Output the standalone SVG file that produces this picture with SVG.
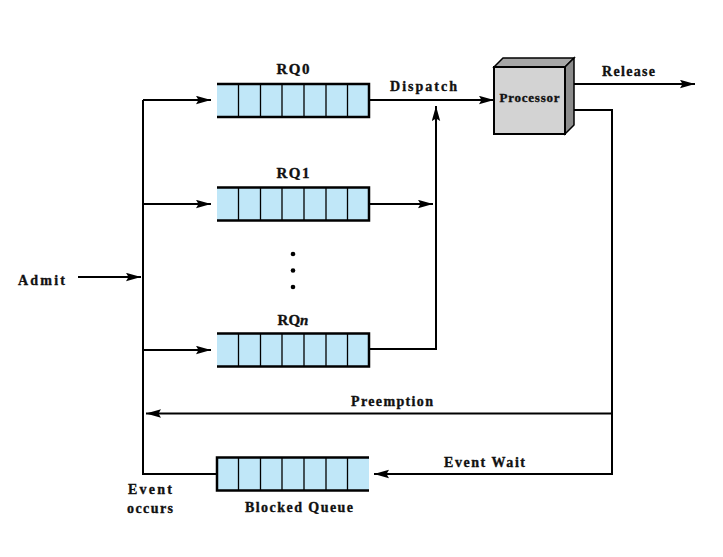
<svg xmlns="http://www.w3.org/2000/svg" width="723" height="557" viewBox="0 0 723 557">
<defs>
<style>
.t{font-family:"Liberation Serif","DejaVu Serif",serif;font-weight:bold;font-size:14px;fill:#111;stroke:#111;stroke-width:0.35;}
.q{fill:#c0e7f8;stroke:none;}
.qb{stroke:#000;stroke-width:2.5;fill:none;}
.qd{stroke:#000;stroke-width:1.3;fill:none;}
.c{stroke:#000;stroke-width:2;fill:none;}
</style>
<marker id="ah" markerUnits="userSpaceOnUse" markerWidth="18" markerHeight="12" refX="15" refY="4.5" orient="auto">
<path d="M0,0.3 L15,4.5 L0,8.7 L2.5,4.5 Z" fill="#000"/>
</marker>
</defs>
<rect width="723" height="557" fill="#fff"/>

<g id="connectors">
<path class="c" d="M143,100 V474 H217"/>
<path class="c" d="M143,100 H211" marker-end="url(#ah)"/>
<path class="c" d="M143,204 H211" marker-end="url(#ah)"/>
<path class="c" d="M143,350 H211" marker-end="url(#ah)"/>
<path class="c" d="M78,277 H141" marker-end="url(#ah)"/>
<path class="c" d="M369,100 H494" marker-end="url(#ah)"/>
<path class="c" d="M369,204 H433" marker-end="url(#ah)"/>
<path class="c" d="M369,349 H436 V106" marker-end="url(#ah)"/>
<path class="c" d="M571,84 H695" marker-end="url(#ah)"/>
<path class="c" d="M571,110 H612 V474 H374" marker-end="url(#ah)"/>
<path class="c" d="M612,413.5 H146" marker-end="url(#ah)"/>
</g>

<g id="rq0">
<rect class="q" x="217" y="84" width="152" height="33"/>
<path class="qb" d="M217,84 H369 V117 H217"/>
<path class="qd" d="M238.5,84 V117 M260.5,84 V117 M282,84 V117 M304,84 V117 M326,84 V117 M347.5,84 V117"/>
<text class="t" x="293" y="74" text-anchor="middle" style="font-size:15px" textLength="33" lengthAdjust="spacing">RQ0</text>
</g>

<g id="rq1">
<rect class="q" x="217" y="187.5" width="152" height="33"/>
<path class="qb" d="M217,187.5 H369 V220.5 H217"/>
<path class="qd" d="M238.5,187.5 V220.5 M260.5,187.5 V220.5 M282,187.5 V220.5 M304,187.5 V220.5 M326,187.5 V220.5 M347.5,187.5 V220.5"/>
<text class="t" x="293" y="178" text-anchor="middle" style="font-size:15px" textLength="33" lengthAdjust="spacing">RQ1</text>
</g>

<g id="dots">
<circle cx="293" cy="254" r="2.3" fill="#000"/>
<circle cx="293" cy="270.5" r="2.3" fill="#000"/>
<circle cx="293" cy="287" r="2.3" fill="#000"/>
</g>

<g id="rqn">
<rect class="q" x="217" y="333.5" width="152" height="33"/>
<path class="qb" d="M217,333.5 H369 V366.5 H217"/>
<path class="qd" d="M238.5,333.5 V366.5 M260.5,333.5 V366.5 M282,333.5 V366.5 M304,333.5 V366.5 M326,333.5 V366.5 M347.5,333.5 V366.5"/>
<text class="t" x="293" y="325" text-anchor="middle" style="font-size:15px">RQ<tspan font-style="italic">n</tspan></text>
</g>

<g id="blocked">
<rect class="q" x="217" y="457.5" width="152" height="33"/>
<path class="qb" d="M369,457.5 H217 V490.5 H369"/>
<path class="qd" d="M238.5,457.5 V490.5 M260.5,457.5 V490.5 M282,457.5 V490.5 M304,457.5 V490.5 M326,457.5 V490.5 M347.5,457.5 V490.5"/>
<text class="t" x="245" y="512" textLength="108" lengthAdjust="spacing">Blocked Queue</text>
</g>

<g id="processor">
<polygon points="494,67 503,58 574,58 565,67" fill="#a6a6a6" stroke="#000" stroke-width="1.5"/>
<polygon points="565,67 574,58 574,125 565,134" fill="#8c8c8c" stroke="#000" stroke-width="1.5"/>
<rect x="494" y="67" width="71" height="67" fill="#d3d3d3" stroke="#000" stroke-width="2"/>
<text class="t" x="529.5" y="102" text-anchor="middle" style="font-size:13px" textLength="60" lengthAdjust="spacing">Processor</text>
</g>

<g id="labels">
<text class="t" x="390" y="91" textLength="67" lengthAdjust="spacing">Dispatch</text>
<text class="t" x="602" y="76" textLength="53" lengthAdjust="spacing">Release</text>
<text class="t" x="18" y="285" textLength="47" lengthAdjust="spacing">Admit</text>
<text class="t" x="351" y="406" textLength="82" lengthAdjust="spacing">Preemption</text>
<text class="t" x="444" y="467" textLength="81" lengthAdjust="spacing">Event Wait</text>
<text class="t" x="128" y="494" textLength="44" lengthAdjust="spacing">Event</text>
<text class="t" x="127" y="513" textLength="46" lengthAdjust="spacing">occurs</text>
</g>
</svg>
